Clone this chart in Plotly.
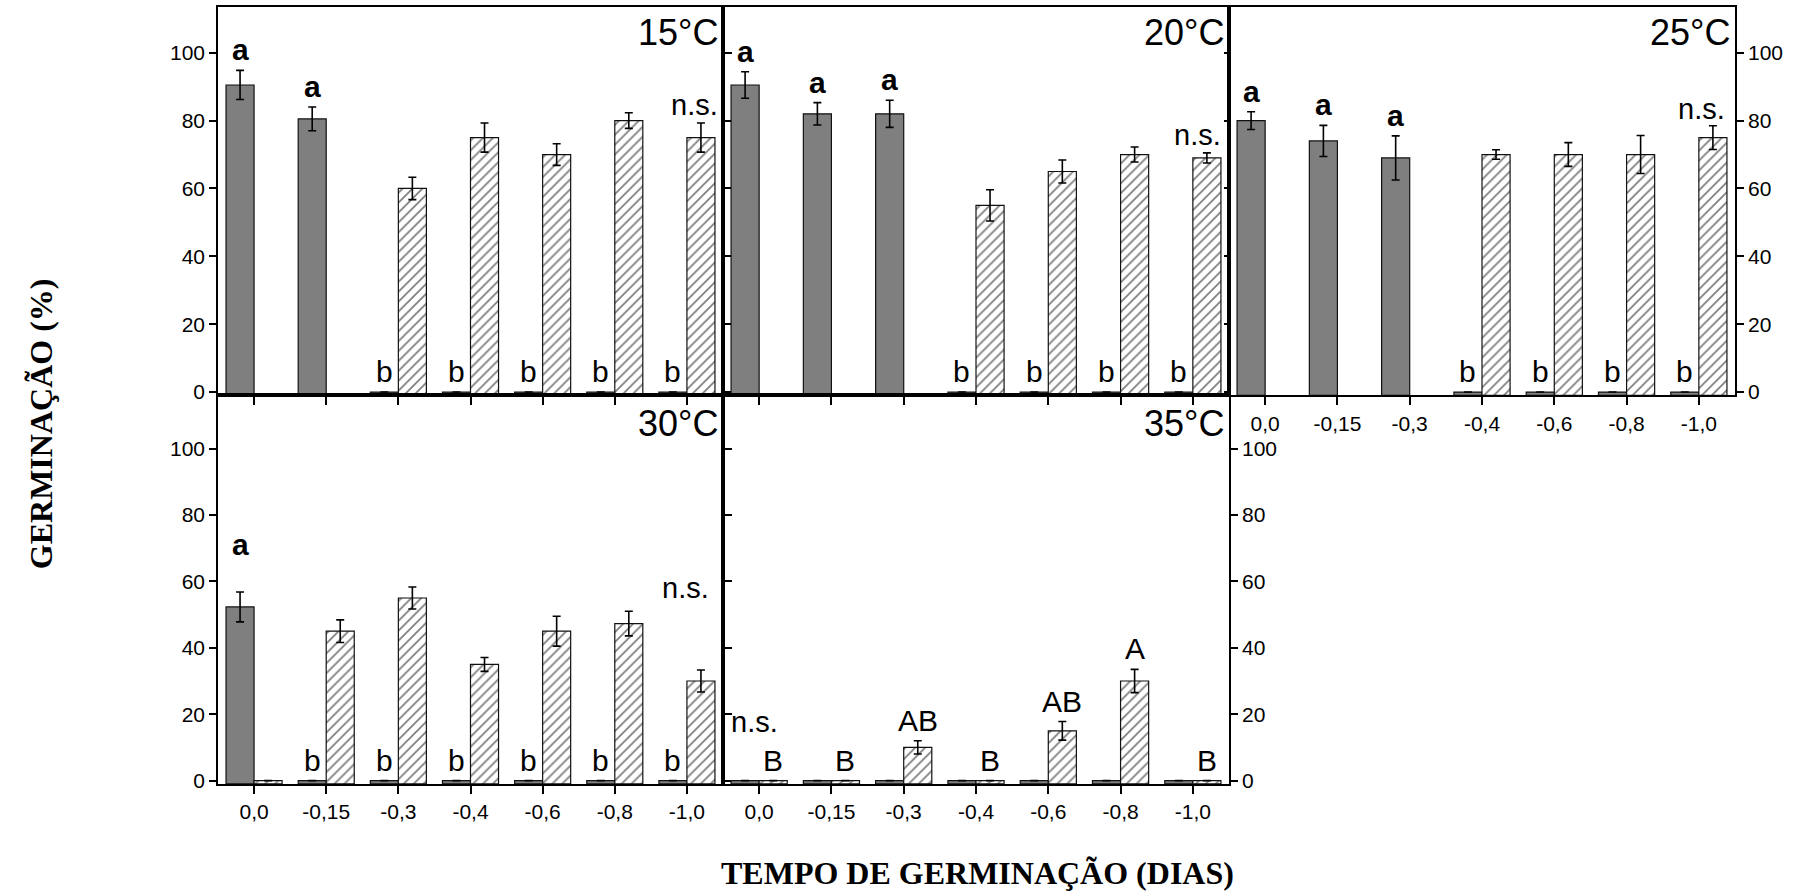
import plotly.graph_objects as go

# Osmotic potential levels (MPa) shown on every x axis
categories = ["0,0", "-0,15", "-0,3", "-0,4", "-0,6", "-0,8", "-1,0"]
panel_titles = ["15°C", "20°C", "25°C", "30°C", "35°C"]

# Germination (%) - solid grey series, with standard deviation
grey_15 = [90.5, 80.5, 0, 0, 0, 0, 0]
grey_sd_15 = [4.3, 3.5, None, None, None, None, None]
grey_20 = [90.5, 82, 82, 0, 0, 0, 0]
grey_sd_20 = [3.9, 3.3, 4.0, None, None, None, None]
grey_25 = [80, 74, 69, 0, 0, 0, 0]
grey_sd_25 = [2.6, 4.6, 6.5, None, None, None, None]
grey_30 = [52.3, 0, 0, 0, 0, 0, 0]
grey_sd_30 = [4.5, None, None, None, None, None, None]
grey_35 = [0, 0, 0, 0, 0, 0, 0]
grey_sd_35 = [None, None, None, None, None, None, None]

# Germination (%) - hatched series, with standard deviation
hatch_15 = [None, None, 60, 75, 70, 80, 75]
hatch_sd_15 = [None, None, 3.3, 4.3, 3.2, 2.3, 4.3]
hatch_20 = [None, None, None, 55, 65, 70, 69]
hatch_sd_20 = [None, None, None, 4.6, 3.4, 2.2, 1.5]
hatch_25 = [None, None, None, 70, 70, 70, 75]
hatch_sd_25 = [None, None, None, 1.4, 3.5, 5.6, 3.5]
hatch_30 = [0, 45, 55, 35, 45, 47.3, 30]
hatch_sd_30 = [None, 3.4, 3.3, 2.1, 4.5, 3.7, 3.3]
hatch_35 = [0, 0, 10, 0, 15, 30, 0]
hatch_sd_35 = [None, None, 2.0, None, 2.8, 3.5, None]

# Mean-comparison letters
grey_letters_15 = ["a", "a", "b", "b", "b", "b", "b"]
grey_letters_20 = ["a", "a", "a", "b", "b", "b", "b"]
grey_letters_25 = ["a", "a", "a", "b", "b", "b", "b"]
grey_letters_30 = ["a", "b", "b", "b", "b", "b", "b"]
grey_letters_35 = ["", "", "", "", "", "", ""]
hatch_letters_15 = ["", "", "", "", "", "", ""]
hatch_letters_20 = ["", "", "", "", "", "", ""]
hatch_letters_25 = ["", "", "", "", "", "", ""]
hatch_letters_30 = ["", "", "", "", "", "", ""]
hatch_letters_35 = ["B", "B", "AB", "B", "AB", "A", "B"]

ns_text = "n.s."

panels = [
    (grey_15, grey_sd_15, hatch_15, hatch_sd_15, grey_letters_15, hatch_letters_15),
    (grey_20, grey_sd_20, hatch_20, hatch_sd_20, grey_letters_20, hatch_letters_20),
    (grey_25, grey_sd_25, hatch_25, hatch_sd_25, grey_letters_25, hatch_letters_25),
    (grey_30, grey_sd_30, hatch_30, hatch_sd_30, grey_letters_30, hatch_letters_30),
    (grey_35, grey_sd_35, hatch_35, hatch_sd_35, grey_letters_35, hatch_letters_35),
]

# ---- layout geometry (pixels) ----
W, H = 1798, 896
col_px = [(218, 723), (723, 1229), (1229, 1735)]
row_px = [(7, 399), (399, 791)]
grid = [(0, 0), (1, 0), (2, 0), (0, 1), (1, 1)]
row_range = [[-1, 113.5], [-1, 116]]
# placement of the "n.s." marks (category position, height)
ns_pos = [(6.1, 84.6), (6.06, 75.8), (6.03, 83.4), (5.98, 58), (-0.07, 17.7)]
# extra lift (in axis units) for individual letters: (panel, category) -> lift
letter_lift = {(3, 0): 8}

SANS = "Liberation Sans, Arial, sans-serif"
SERIF = "Liberation Serif, Times New Roman, serif"
GREY = "#7f7f7f"
BAR_LINE = "#111111"
OFFSET = 0.194  # half of a bar slot within each category group

fig = go.Figure()
annotations = []

for k, (g, gsd, h, hsd, gl, hl) in enumerate(panels):
    col, row = grid[k]
    n = "" if k == 0 else str(k + 1)
    xa, ya = "x" + n, "y" + n
    floor = row_range[row][0]

    # bars rise from the bottom of the axis frame
    fig.add_trace(go.Bar(
        x=categories, y=[None if v is None else v - floor for v in g], base=floor,
        xaxis=xa, yaxis=ya, showlegend=False, hoverinfo="skip",
        marker=dict(color=GREY, line=dict(color=BAR_LINE, width=1.2)),
        error_y=dict(type="data", array=gsd, visible=True, color="black",
                     thickness=1.6, width=4),
    ))
    fig.add_trace(go.Bar(
        x=categories, y=[None if v is None else v - floor for v in h], base=floor,
        xaxis=xa, yaxis=ya, showlegend=False, hoverinfo="skip",
        marker=dict(color="white", line=dict(color=BAR_LINE, width=1.2),
                    pattern=dict(shape="/", fgcolor="black", bgcolor="white",
                                 size=7, solidity=0.25)),
        error_y=dict(type="data", array=hsd, visible=True, color="black",
                     thickness=1.6, width=4),
    ))

    # letters above each bar
    for i in range(len(categories)):
        for vals, sds, letters, side in ((g, gsd, gl, -1), (h, hsd, hl, 1)):
            if not letters[i] or vals[i] is None:
                continue
            top = vals[i] + (sds[i] or 0) + letter_lift.get((k, i), 0)
            annotations.append(dict(
                x=i + side * OFFSET, y=top, xref=xa, yref=ya,
                text=("<b>%s</b>" % letters[i]) if letters[i] == "a" else letters[i],
                showarrow=False, xanchor="center", yanchor="bottom", yshift=2,
                font=dict(family=SANS, size=30, color="black"),
            ))

    nx, ny = ns_pos[k]
    annotations.append(dict(
        x=nx, y=ny, xref=xa, yref=ya, text=ns_text, showarrow=False,
        xanchor="center", yanchor="middle",
        font=dict(family=SANS, size=29, color="black"),
    ))

    # temperature label in the upper right corner
    annotations.append(dict(
        x=1, y=1, xref=xa + " domain", yref=ya + " domain", text=panel_titles[k],
        showarrow=False, xanchor="right", yanchor="middle",
        xshift=-3, yshift=-26 if row == 0 else -28,
        font=dict(family=SANS, size=36, color="black"),
    ))

    x0, x1 = col_px[col]
    y0, y1 = row_px[row]
    show_x_labels = not (row == 0 and col < 2)
    right_side = col == 2 or (row == 1 and col == 1)
    inner = (row == 0 and col == 1)

    fig.layout["xaxis" + n] = dict(
        domain=[x0 / W, x1 / W], anchor=ya, type="category",
        categoryorder="array", categoryarray=categories, range=[-0.5, 6.5],
        showline=True, linecolor="black", linewidth=2, mirror=True,
        ticks="outside", ticklen=8, tickwidth=1.5, tickcolor="black",
        showticklabels=show_x_labels, showgrid=False, zeroline=False,
        tickfont=dict(family=SANS, size=21, color="black"), fixedrange=True,
    )
    fig.layout["yaxis" + n] = dict(
        domain=[1 - y1 / H, 1 - y0 / H], anchor=xa, range=row_range[row],
        tickvals=[0, 20, 40, 60, 80, 100], side="right" if right_side else "left",
        showline=True, linecolor="black", linewidth=1.6,
        mirror="ticks" if not right_side else True,
        ticks="inside" if inner else "outside", ticklen=7 if not inner else 5,
        tickwidth=1.5, tickcolor="black",
        showticklabels=not inner, showgrid=False, zeroline=False,
        tickfont=dict(family=SANS, size=21, color="black"), fixedrange=True,
    )

# axis titles shared by the whole figure
annotations.append(dict(
    x=41 / W, y=1 - 428 / H, xref="paper", yref="paper",
    text="<b>GERMINAÇÃO (%)</b>", textangle=-90, showarrow=False,
    xanchor="center", yanchor="middle",
    font=dict(family=SERIF, size=32, color="black"),
))
annotations.append(dict(
    x=977 / W, y=1 - 881 / H, xref="paper", yref="paper",
    text="<b>TEMPO DE GERMINAÇÃO (DIAS)</b>", showarrow=False,
    xanchor="center", yanchor="middle",
    font=dict(family=SERIF, size=32, color="black"),
))

fig.update_layout(
    width=W, height=H, margin=dict(l=0, r=0, t=0, b=0),
    paper_bgcolor="white", plot_bgcolor="white",
    barmode="group", bargap=0.223, bargroupgap=0,
    annotations=annotations,
)

fig.write_html("out.html")
